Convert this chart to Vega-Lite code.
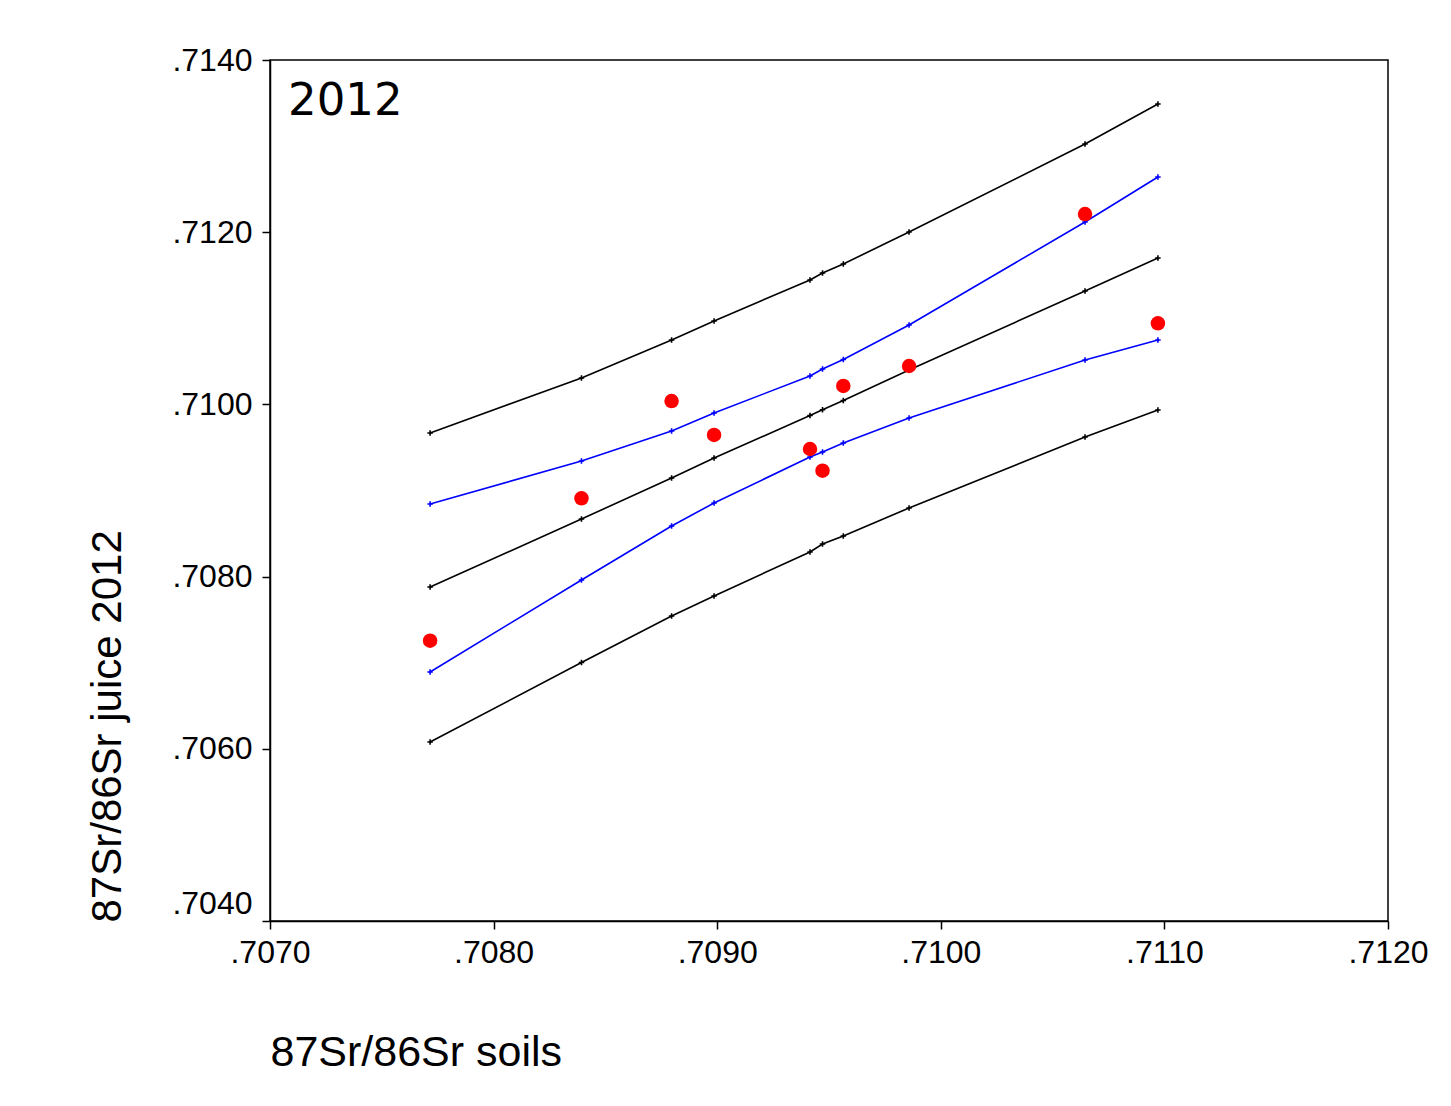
{
  "$schema": "https://vega.github.io/schema/vega-lite/v6.json",
  "width": 1118,
  "height": 861,
  "autosize": {"type": "none"},
  "padding": {"left": 270, "top": 60, "right": 63, "bottom": 185},
  "background": "#ffffff",
  "title": {
    "text": "2012",
    "anchor": "start",
    "frame": "group",
    "orient": "top",
    "font": "DejaVu Sans",
    "fontSize": 45,
    "fontWeight": "normal",
    "color": "#000000",
    "baseline": "alphabetic",
    "offset": 0,
    "dx": 18,
    "dy": 116
  },
  "config": {
    "view": {"stroke": "#000000", "strokeWidth": 1.5},
    "axis": {
      "grid": false,
      "domainColor": "#000000",
      "domainWidth": 1.5,
      "tickColor": "#000000",
      "tickWidth": 1.5,
      "tickSize": 8,
      "labelFont": "Liberation Sans",
      "labelFontSize": 32,
      "labelColor": "#000000",
      "titleFont": "Liberation Sans",
      "titleFontSize": 42,
      "titleFontWeight": "normal",
      "titleColor": "#000000"
    }
  },
  "datasets": {
    "bands": [
      {"soil": 0.707716, "juice": 0.709668, "band": "prediction upper"},
      {"soil": 0.708393, "juice": 0.710307, "band": "prediction upper"},
      {"soil": 0.708796, "juice": 0.710748, "band": "prediction upper"},
      {"soil": 0.708986, "juice": 0.710969, "band": "prediction upper"},
      {"soil": 0.709415, "juice": 0.711445, "band": "prediction upper"},
      {"soil": 0.709471, "juice": 0.711526, "band": "prediction upper"},
      {"soil": 0.709564, "juice": 0.711631, "band": "prediction upper"},
      {"soil": 0.709858, "juice": 0.712002, "band": "prediction upper"},
      {"soil": 0.710645, "juice": 0.713024, "band": "prediction upper"},
      {"soil": 0.710971, "juice": 0.713489, "band": "prediction upper"},

      {"soil": 0.707716, "juice": 0.708843, "band": "confidence upper"},
      {"soil": 0.708393, "juice": 0.709343, "band": "confidence upper"},
      {"soil": 0.708796, "juice": 0.709691, "band": "confidence upper"},
      {"soil": 0.708986, "juice": 0.709900, "band": "confidence upper"},
      {"soil": 0.709415, "juice": 0.710330, "band": "confidence upper"},
      {"soil": 0.709471, "juice": 0.710411, "band": "confidence upper"},
      {"soil": 0.709564, "juice": 0.710521, "band": "confidence upper"},
      {"soil": 0.709858, "juice": 0.710922, "band": "confidence upper"},
      {"soil": 0.710645, "juice": 0.712118, "band": "confidence upper"},
      {"soil": 0.710971, "juice": 0.712641, "band": "confidence upper"},

      {"soil": 0.707716, "juice": 0.707879, "band": "fit"},
      {"soil": 0.708393, "juice": 0.708669, "band": "fit"},
      {"soil": 0.708796, "juice": 0.709145, "band": "fit"},
      {"soil": 0.708986, "juice": 0.709377, "band": "fit"},
      {"soil": 0.709415, "juice": 0.709871, "band": "fit"},
      {"soil": 0.709471, "juice": 0.709938, "band": "fit"},
      {"soil": 0.709564, "juice": 0.710045, "band": "fit"},
      {"soil": 0.709858, "juice": 0.710400, "band": "fit"},
      {"soil": 0.710645, "juice": 0.711317, "band": "fit"},
      {"soil": 0.710971, "juice": 0.711700, "band": "fit"},

      {"soil": 0.707716, "juice": 0.706892, "band": "confidence lower"},
      {"soil": 0.708393, "juice": 0.707961, "band": "confidence lower"},
      {"soil": 0.708796, "juice": 0.708588, "band": "confidence lower"},
      {"soil": 0.708986, "juice": 0.708855, "band": "confidence lower"},
      {"soil": 0.709415, "juice": 0.709389, "band": "confidence lower"},
      {"soil": 0.709471, "juice": 0.709447, "band": "confidence lower"},
      {"soil": 0.709564, "juice": 0.709552, "band": "confidence lower"},
      {"soil": 0.709858, "juice": 0.709842, "band": "confidence lower"},
      {"soil": 0.710645, "juice": 0.710516, "band": "confidence lower"},
      {"soil": 0.710971, "juice": 0.710748, "band": "confidence lower"},

      {"soil": 0.707716, "juice": 0.706079, "band": "prediction lower"},
      {"soil": 0.708393, "juice": 0.707002, "band": "prediction lower"},
      {"soil": 0.708796, "juice": 0.707542, "band": "prediction lower"},
      {"soil": 0.708986, "juice": 0.707775, "band": "prediction lower"},
      {"soil": 0.709415, "juice": 0.708286, "band": "prediction lower"},
      {"soil": 0.709471, "juice": 0.708379, "band": "prediction lower"},
      {"soil": 0.709564, "juice": 0.708472, "band": "prediction lower"},
      {"soil": 0.709858, "juice": 0.708797, "band": "prediction lower"},
      {"soil": 0.710645, "juice": 0.709621, "band": "prediction lower"},
      {"soil": 0.710971, "juice": 0.709935, "band": "prediction lower"}
    ],
    "samples": [
      {"soil": 0.707716, "juice": 0.707256},
      {"soil": 0.708393, "juice": 0.708909},
      {"soil": 0.708796, "juice": 0.710039},
      {"soil": 0.708986, "juice": 0.709645},
      {"soil": 0.709415, "juice": 0.709482},
      {"soil": 0.709471, "juice": 0.709230},
      {"soil": 0.709564, "juice": 0.710214},
      {"soil": 0.709858, "juice": 0.710446},
      {"soil": 0.710645, "juice": 0.712211},
      {"soil": 0.710971, "juice": 0.710942}
    ]
  },
  "encoding": {
    "x": {
      "field": "soil",
      "type": "quantitative",
      "scale": {"domain": [0.707, 0.712], "nice": false, "zero": false},
      "axis": {
        "title": "87Sr/86Sr soils",
        "values": [0.707, 0.708, 0.709, 0.71, 0.711, 0.712],
        "labelExpr": "substring(format(datum.value, '.4f'), 1)",
        "labelPadding": 8,
        "labelFlush": false,
        "labelOverlap": false,
        "titleFontSize": 43,
        "titleX": 0,
        "titleY": 144,
        "titleAlign": "left",
        "titleBaseline": "alphabetic"
      }
    },
    "y": {
      "field": "juice",
      "type": "quantitative",
      "scale": {"domain": [0.704, 0.714], "nice": false, "zero": false},
      "axis": {
        "title": "87Sr/86Sr juice 2012",
        "values": [0.704, 0.706, 0.708, 0.71, 0.712, 0.714],
        "labelExpr": "substring(format(datum.value, '.4f'), 1)",
        "labelPadding": 10,
        "labelFlush": false,
        "labelOverlap": false,
        "labelOffset": {"expr": "datum.value < 0.7045 ? -18 : 0"},
        "titleAngle": -90,
        "titleX": -150,
        "titleY": 862,
        "titleAlign": "left",
        "titleBaseline": "alphabetic"
      }
    }
  },
  "layer": [
    {
      "data": {"name": "bands"},
      "mark": {"type": "line", "strokeWidth": 1.6},
      "encoding": {
        "detail": {"field": "band", "type": "nominal"},
        "color": {
          "field": "band",
          "type": "nominal",
          "scale": {
            "domain": ["prediction upper", "confidence upper", "fit", "confidence lower", "prediction lower"],
            "range": ["#000000", "#0000ff", "#000000", "#0000ff", "#000000"]
          },
          "legend": null
        }
      }
    },
    {
      "data": {"name": "bands"},
      "mark": {"type": "point", "shape": "M-1,0L1,0M0,-1L0,1", "filled": false, "size": 30, "strokeWidth": 1.6, "opacity": 1},
      "encoding": {
        "color": {
          "field": "band",
          "type": "nominal",
          "scale": {
            "domain": ["prediction upper", "confidence upper", "fit", "confidence lower", "prediction lower"],
            "range": ["#000000", "#0000ff", "#000000", "#0000ff", "#000000"]
          },
          "legend": null
        }
      }
    },
    {
      "data": {"name": "samples"},
      "mark": {"type": "circle", "size": 210, "color": "#ff0000", "opacity": 1}
    }
  ]
}
